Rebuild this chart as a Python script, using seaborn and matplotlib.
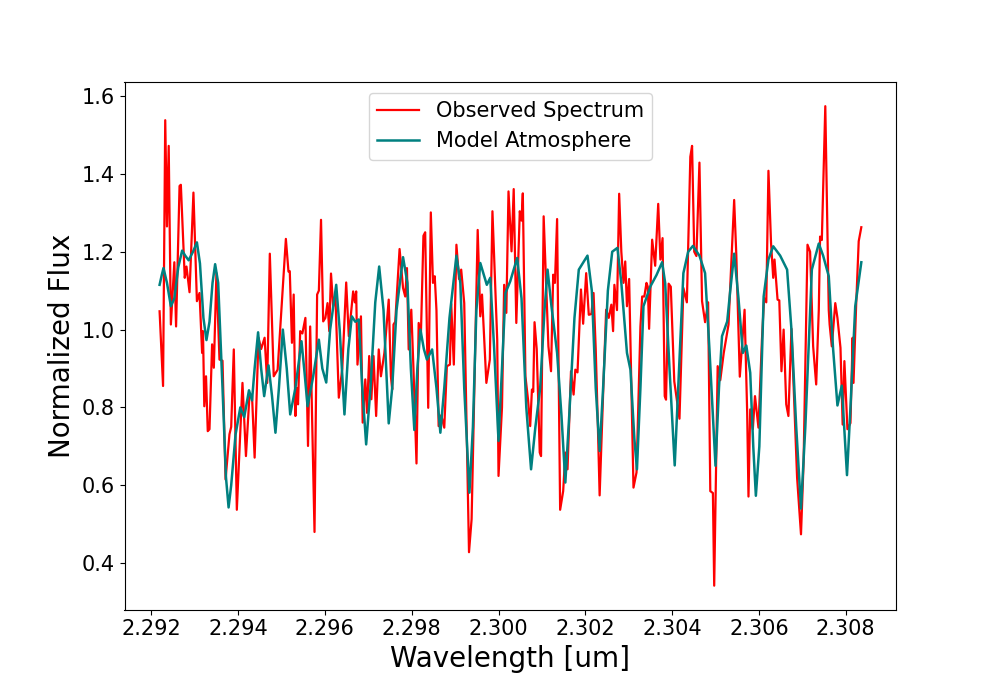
import matplotlib
matplotlib.use("Agg")
import matplotlib.pyplot as plt
import seaborn as sns
import pandas as pd

# Observed spectrum (wavelength in um, normalized flux)
obs_wave = [
    2.29219, 2.29227, 2.29232, 2.29236, 2.29240, 2.29245, 2.29253, 2.29257, 2.29265, 2.29268,
    2.29277, 2.29281, 2.29284, 2.29288, 2.29297, 2.29305, 2.29311, 2.29317, 2.29319, 2.29322,
    2.29326, 2.29330, 2.29334, 2.29340, 2.29344, 2.29350, 2.29357, 2.29364, 2.29371, 2.29380,
    2.29384, 2.29390, 2.29397, 2.29410, 2.29418, 2.29426, 2.29432, 2.29438, 2.29447, 2.29453,
    2.29461, 2.29467, 2.29473, 2.29482, 2.29491, 2.29510, 2.29516, 2.29519, 2.29524, 2.29528,
    2.29532, 2.29535, 2.29538, 2.29543, 2.29548, 2.29555, 2.29561, 2.29566, 2.29576, 2.29582,
    2.29586, 2.29591, 2.29596, 2.29601, 2.29606, 2.29610, 2.29614, 2.29619, 2.29624, 2.29632,
    2.29640, 2.29649, 2.29655, 2.29665, 2.29669, 2.29672, 2.29675, 2.29683, 2.29687, 2.29693,
    2.29697, 2.29702, 2.29707, 2.29712, 2.29718, 2.29724, 2.29729, 2.29737, 2.29747, 2.29752,
    2.29755, 2.29758, 2.29762, 2.29772, 2.29780, 2.29785, 2.29789, 2.29793, 2.29799, 2.29804,
    2.29811, 2.29816, 2.29821, 2.29827, 2.29831, 2.29838, 2.29844, 2.29849, 2.29853, 2.29857,
    2.29862, 2.29868, 2.29875, 2.29881, 2.29888, 2.29891, 2.29897, 2.29903, 2.29909, 2.29914,
    2.29921, 2.29932, 2.29938, 2.29952, 2.29958, 2.29962, 2.29972, 2.29980, 2.29986, 2.29997,
    2.30000, 2.30008, 2.30013, 2.30018, 2.30023, 2.30030, 2.30035, 2.30041, 2.30049, 2.30053,
    2.30056, 2.30062, 2.30068, 2.30073, 2.30077, 2.30080, 2.30083, 2.30088, 2.30095, 2.30098,
    2.30104, 2.30111, 2.30115, 2.30121, 2.30126, 2.30130, 2.30135, 2.30138, 2.30142, 2.30149,
    2.30154, 2.30159, 2.30167, 2.30173, 2.30177, 2.30182, 2.30190, 2.30195, 2.30202, 2.30208,
    2.30214, 2.30219, 2.30224, 2.30229, 2.30233, 2.30242, 2.30248, 2.30254, 2.30260, 2.30264,
    2.30267, 2.30273, 2.30278, 2.30283, 2.30288, 2.30292, 2.30296, 2.30301, 2.30311, 2.30318,
    2.30327, 2.30331, 2.30336, 2.30341, 2.30344, 2.30347, 2.30354, 2.30361, 2.30368, 2.30373,
    2.30378, 2.30383, 2.30386, 2.30392, 2.30397, 2.30405, 2.30417, 2.30426, 2.30434, 2.30442,
    2.30446, 2.30451, 2.30456, 2.30463, 2.30469, 2.30476, 2.30483, 2.30488, 2.30494, 2.30497,
    2.30505, 2.30511, 2.30519, 2.30530, 2.30543, 2.30548, 2.30556, 2.30567, 2.30573, 2.30576,
    2.30580, 2.30586, 2.30591, 2.30599, 2.30607, 2.30612, 2.30617, 2.30622, 2.30628, 2.30633,
    2.30636, 2.30643, 2.30647, 2.30652, 2.30657, 2.30663, 2.30668, 2.30675, 2.30682, 2.30688,
    2.30697, 2.30703, 2.30712, 2.30718, 2.30725, 2.30732, 2.30738, 2.30741, 2.30745, 2.30753,
    2.30761, 2.30763, 2.30768, 2.30776, 2.30781, 2.30788, 2.30793, 2.30797, 2.30804, 2.30811,
    2.30816, 2.30818, 2.30824, 2.30830, 2.30836,
]
obs_flux = [
    1.047, 0.855, 1.538, 1.265, 1.472, 1.013, 1.173, 1.008, 1.369, 1.372,
    1.133, 1.162, 1.133, 1.096, 1.352, 1.073, 1.094, 0.940, 0.996, 0.803,
    0.880, 0.739, 0.744, 0.962, 0.902, 1.145, 0.923, 0.920, 0.615, 0.731,
    0.750, 0.949, 0.537, 0.863, 0.675, 0.829, 0.830, 0.671, 0.979, 0.950,
    0.979, 0.863, 1.195, 0.880, 0.897, 1.233, 1.149, 1.150, 0.966, 1.090,
    0.778, 0.850, 0.808, 0.996, 0.990, 1.030, 0.701, 1.008, 0.480, 1.090,
    1.100, 1.282, 1.021, 1.030, 1.068, 0.996, 1.144, 1.060, 1.090, 0.825,
    0.900, 1.121, 0.983, 1.098, 1.070, 1.098, 0.910, 1.034, 0.761, 0.872,
    0.786, 0.932, 0.821, 0.932, 0.778, 0.949, 0.880, 0.940, 1.077, 0.880,
    0.846, 1.013, 1.020, 1.207, 1.107, 1.085, 1.158, 0.949, 1.051, 0.900,
    0.656, 1.017, 0.980, 1.241, 1.250, 0.799, 1.301, 1.120, 1.137, 1.050,
    0.752, 0.780, 0.748, 0.906, 0.910, 1.066, 0.910, 1.218, 1.130, 1.154,
    1.068, 0.428, 0.513, 1.256, 1.034, 1.090, 0.863, 0.923, 1.304, 0.974,
    0.624, 0.800, 1.115, 1.043, 1.355, 1.201, 1.361, 1.017, 1.304, 1.280,
    1.350, 0.880, 0.820, 0.752, 0.846, 0.840, 1.019, 0.950, 0.684, 0.675,
    1.291, 1.080, 0.957, 0.893, 1.141, 1.120, 1.284, 0.950, 0.537, 0.585,
    0.684, 0.641, 0.893, 0.833, 0.897, 0.890, 1.103, 1.015, 1.145, 1.038,
    1.040, 1.094, 0.950, 0.750, 0.574, 0.867, 1.051, 1.030, 1.064, 0.996,
    1.115, 1.050, 1.349, 1.200, 1.120, 1.175, 1.060, 1.130, 0.594, 0.633,
    1.008, 1.085, 1.085, 1.120, 1.110, 1.002, 1.231, 1.164, 1.323, 1.180,
    1.235, 0.829, 0.820, 1.118, 1.110, 0.867, 0.771, 1.107, 1.070, 1.444,
    1.472, 1.200, 1.189, 1.429, 1.073, 1.019, 1.070, 0.585, 0.580, 0.342,
    0.906, 0.870, 0.940, 1.013, 1.333, 1.190, 0.879, 1.051, 0.786, 0.571,
    0.795, 0.744, 0.829, 0.748, 0.974, 1.081, 1.070, 1.408, 1.222, 1.133,
    1.180, 1.077, 1.075, 0.893, 1.000, 0.808, 0.778, 1.002, 0.795, 0.620,
    0.474, 0.660, 1.218, 1.200, 0.957, 0.859, 1.050, 1.239, 1.230, 1.574,
    1.050, 1.013, 0.957, 1.068, 1.030, 0.953, 0.756, 0.919, 0.744, 0.760,
    0.979, 0.863, 1.060, 1.227, 1.263,
]

# Model atmosphere
mod_wave = [
    2.29219, 2.29224, 2.29228, 2.29236, 2.29245, 2.29253, 2.29262, 2.29271, 2.29278, 2.29286,
    2.29296, 2.29305, 2.29312, 2.29320, 2.29327, 2.29334, 2.29341, 2.29347, 2.29354, 2.29364,
    2.29372, 2.29378, 2.29384, 2.29394, 2.29405, 2.29414, 2.29425, 2.29432, 2.29438, 2.29446,
    2.29453, 2.29460, 2.29470, 2.29478, 2.29486, 2.29494, 2.29503, 2.29512, 2.29520, 2.29532,
    2.29546, 2.29553, 2.29560, 2.29573, 2.29586, 2.29594, 2.29603, 2.29612, 2.29626, 2.29634,
    2.29645, 2.29654, 2.29662, 2.29670, 2.29678, 2.29686, 2.29695, 2.29705, 2.29716, 2.29725,
    2.29735, 2.29747, 2.29755, 2.29765, 2.29780, 2.29790, 2.29798, 2.29806, 2.29813, 2.29820,
    2.29828, 2.29835, 2.29847, 2.29857, 2.29866, 2.29875, 2.29887, 2.29903, 2.29912, 2.29921,
    2.29933, 2.29941, 2.29949, 2.29958, 2.29973, 2.29981, 2.29990, 2.30000, 2.30008, 2.30016,
    2.30027, 2.30043, 2.30053, 2.30064, 2.30075, 2.30085, 2.30096, 2.30106, 2.30113, 2.30122,
    2.30135, 2.30145, 2.30154, 2.30163, 2.30175, 2.30185, 2.30205, 2.30215, 2.30224, 2.30233,
    2.30241, 2.30252, 2.30262, 2.30274, 2.30283, 2.30296, 2.30304, 2.30313, 2.30319, 2.30327,
    2.30334, 2.30350, 2.30364, 2.30377, 2.30384, 2.30394, 2.30406, 2.30414, 2.30426, 2.30437,
    2.30448, 2.30463, 2.30476, 2.30486, 2.30500, 2.30508, 2.30515, 2.30527, 2.30534, 2.30543,
    2.30553, 2.30563, 2.30571, 2.30580, 2.30587, 2.30593, 2.30601, 2.30611, 2.30622, 2.30633,
    2.30649, 2.30665, 2.30675, 2.30686, 2.30697, 2.30707, 2.30722, 2.30738, 2.30748, 2.30761,
    2.30771, 2.30781, 2.30791, 2.30797, 2.30803, 2.30811, 2.30822, 2.30836,
]
mod_flux = [
    1.115, 1.140, 1.158, 1.120, 1.060, 1.080, 1.160, 1.203, 1.190, 1.178,
    1.200, 1.224, 1.170, 1.030, 0.973, 1.020, 1.120, 1.168, 1.120, 0.850,
    0.620, 0.543, 0.600, 0.730, 0.800, 0.775, 0.844, 0.818, 0.900, 0.993,
    0.900, 0.829, 0.908, 0.830, 0.735, 0.850, 1.000, 0.900, 0.782, 0.850,
    0.970, 0.890, 0.803, 0.880, 0.974, 0.900, 0.864, 1.000, 1.115, 1.000,
    0.782, 0.950, 1.034, 1.020, 1.026, 0.850, 0.705, 0.850, 1.070, 1.162,
    1.050, 0.759, 0.850, 1.050, 1.186, 1.120, 0.900, 0.742, 0.900, 1.000,
    0.950, 0.923, 0.949, 0.850, 0.735, 0.850, 1.030, 1.190, 1.120, 0.850,
    0.581, 0.750, 1.050, 1.171, 1.115, 1.133, 0.950, 0.714, 0.900, 1.094,
    1.124, 1.184, 1.080, 0.800, 0.641, 0.750, 0.850, 1.050, 1.154, 1.060,
    0.940, 0.780, 0.607, 0.780, 1.030, 1.154, 1.190, 1.100, 0.850, 0.688,
    0.850, 1.100, 1.200, 1.210, 1.120, 0.940, 0.897, 0.720, 0.641, 0.850,
    1.060, 1.111, 1.140, 1.173, 1.120, 0.900, 0.651, 0.850, 1.145, 1.200,
    1.215, 1.190, 1.145, 0.950, 0.650, 0.850, 0.983, 1.021, 1.100, 1.195,
    1.080, 0.940, 0.959, 0.889, 0.700, 0.573, 0.700, 1.085, 1.180, 1.214,
    1.190, 1.154, 1.000, 0.750, 0.540, 0.750, 1.154, 1.221, 1.190, 1.137,
    0.950, 0.805, 0.856, 0.740, 0.626, 0.800, 1.060, 1.173,
]

obs = pd.DataFrame({"wave": obs_wave, "flux": obs_flux})
mod = pd.DataFrame({"wave": mod_wave, "flux": mod_flux})

# plain matplotlib look: black text, no grid
plt.rcParams["font.family"] = ["DejaVu Sans"]

fig, ax = plt.subplots(figsize=(9.96, 6.85), dpi=100)
fig.subplots_adjust(left=0.125, right=0.9, top=0.88, bottom=0.11)

sns.lineplot(data=obs, x="wave", y="flux", color="red", linewidth=1.6,
             estimator=None, label="Observed Spectrum", ax=ax)
sns.lineplot(data=mod, x="wave", y="flux", color="teal", linewidth=1.8,
             estimator=None, label="Model Atmosphere", ax=ax,
             solid_joinstyle="round")

ax.set_xlabel("Wavelength [um]", fontsize=20)
ax.set_ylabel("Normalized Flux", fontsize=20)
ax.set_xticks([2.292, 2.294, 2.296, 2.298, 2.300, 2.302, 2.304, 2.306, 2.308])
ax.set_xticklabels(["2.292", "2.294", "2.296", "2.298", "2.300",
                    "2.302", "2.304", "2.306", "2.308"])
ax.tick_params(labelsize=15)
ax.legend(loc="upper center", fontsize=15)

fig.savefig("out.png", dpi=100)
